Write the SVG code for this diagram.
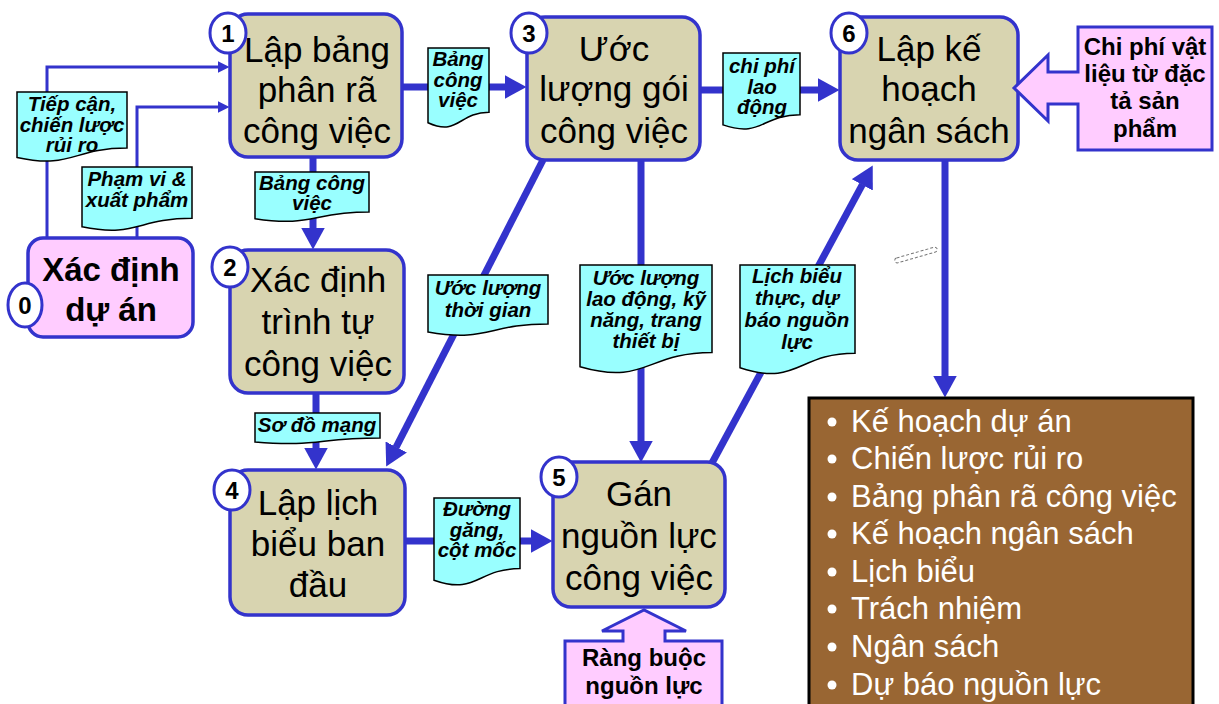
<svg xmlns="http://www.w3.org/2000/svg" width="1219" height="704" viewBox="0 0 1219 704">
  <style>
    .node { fill: #d8d4b0; stroke: #3333cc; stroke-width: 3.5; }
    .start { fill: #ffccff; stroke: #3333cc; stroke-width: 3.5; }
    .num { fill: #ffffff; stroke: #3333cc; stroke-width: 3; }
    .numtxt { font-family: "Liberation Sans", Arial, sans-serif; font-weight: bold; font-size: 24px; fill: #000; text-anchor: middle; }
    .ntxt { font-family: "Liberation Sans", Arial, sans-serif; font-size: 35px; fill: #000; text-anchor: middle; }
    .btxt { font-family: "Liberation Sans", Arial, sans-serif; font-weight: bold; font-size: 33px; fill: #000; text-anchor: middle; }
    .ptxt { font-family: "Liberation Sans", Arial, sans-serif; font-weight: bold; font-size: 24px; fill: #000; text-anchor: middle; }
    .doc { fill: #99ffff; stroke: #000; stroke-width: 1.5; }
    .dtxt { font-family: "Liberation Sans", Arial, sans-serif; font-weight: bold; font-style: italic; font-size: 20.5px; fill: #000; text-anchor: middle; }
    .thick { fill: none; stroke: #3333cc; stroke-width: 7; }
    .thin { fill: none; stroke: #3333cc; stroke-width: 3; }
    .block { fill: #ffccff; stroke: #3333cc; stroke-width: 3; stroke-linejoin: miter; }
    .out { fill: #996633; stroke: #000; stroke-width: 3; }
    .otxt { font-family: "Liberation Sans", Arial, sans-serif; font-size: 31px; fill: #ffffff; }
  </style>
  <defs>
    <marker id="headThick" viewBox="0 0 22 24" refX="0.5" refY="12" markerWidth="22" markerHeight="24" markerUnits="userSpaceOnUse" orient="auto">
      <path d="M0,0 L22,12 L0,24 Z" fill="#3333cc"/>
    </marker>
    <marker id="headThin" viewBox="0 0 12 12" refX="0.5" refY="6" markerWidth="12" markerHeight="12" markerUnits="userSpaceOnUse" orient="auto">
      <path d="M0,0 L12,6 L0,12 Z" fill="#3333cc"/>
    </marker>
  </defs>

  <rect width="1219" height="704" fill="#ffffff"/>

  <!-- connectors -->
  <g id="connectors">
    <path class="thin" d="M47,238 V67 H218" marker-end="url(#headThin)"/>
    <path class="thin" d="M137,238 V107 H218" marker-end="url(#headThin)"/>
    <line class="thick" x1="402" y1="87" x2="505" y2="87" marker-end="url(#headThick)"/>
    <line class="thick" x1="700" y1="90" x2="818" y2="90" marker-end="url(#headThick)"/>
    <line class="thick" x1="313" y1="157" x2="313" y2="228" marker-end="url(#headThick)"/>
    <line class="thick" x1="316" y1="393" x2="316" y2="448" marker-end="url(#headThick)"/>
    <line class="thick" x1="405" y1="541" x2="531" y2="541" marker-end="url(#headThick)"/>
    <line class="thick" x1="641" y1="160" x2="641" y2="441" marker-end="url(#headThick)"/>
    <line class="thick" x1="945" y1="160" x2="945" y2="376" marker-end="url(#headThick)"/>
    <line class="thick" x1="543" y1="160" x2="396" y2="447.4" marker-end="url(#headThick)"/>
    <line class="thick" x1="712" y1="463" x2="862.5" y2="184.4" marker-end="url(#headThick)"/>
  </g>

  <!-- flow labels (document shapes) -->
  <g id="labels">
    <g id="lbl-tiepcan">
      <path class="doc" d="M17,92 H127 V148.1 C72,148.1 72,169.5 17,157.4 Z"/>
      <text class="dtxt" x="72" y="111">Tiếp cận,</text>
      <text class="dtxt" x="72" y="132">chiến lược</text>
      <text class="dtxt" x="72" y="152">rủi ro</text>
    </g>
    <g id="lbl-phamvi">
      <path class="doc" d="M82,167 H192 V218.3 C137,218.3 137,237.8 82,226.8 Z"/>
      <text class="dtxt" x="137" y="186">Phạm vi &amp;</text>
      <text class="dtxt" x="137" y="207">xuất phẩm</text>
    </g>
    <g id="lbl-bang1">
      <path class="doc" d="M428,48 H489 V112.2 C458.5,112.2 458.5,136.6 428,122.7 Z"/>
      <text class="dtxt" x="458" y="66">Bảng</text>
      <text class="dtxt" x="458" y="87">công</text>
      <text class="dtxt" x="458" y="107">việc</text>
    </g>
    <g id="lbl-chiphi">
      <path class="doc" d="M723,53 H800 V114.8 C761.5,114.8 761.5,138.2 723,124.9 Z"/>
      <text class="dtxt" x="762" y="73">chi phí</text>
      <text class="dtxt" x="762" y="94">lao</text>
      <text class="dtxt" x="762" y="114">động</text>
    </g>
    <g id="lbl-bang2">
      <path class="doc" d="M255,172 H369 V212.1 C312,212.1 312,227.4 255,218.7 Z"/>
      <text class="dtxt" x="312" y="190">Bảng công</text>
      <text class="dtxt" x="312" y="210">việc</text>
    </g>
    <g id="lbl-sodo">
      <path class="doc" d="M255,413 H380 V437.9 C317.5,437.9 317.5,447.3 255,442 Z"/>
      <text class="dtxt" x="317" y="432">Sơ đồ mạng</text>
    </g>
    <g id="lbl-thoigian">
      <path class="doc" d="M428,275 H548 V323.9 C488,323.9 488,342.5 428,332 Z"/>
      <text class="dtxt" x="488" y="295">Ước lượng</text>
      <text class="dtxt" x="488" y="317">thời gian</text>
    </g>
    <g id="lbl-laodong">
      <path class="doc" d="M580,265 H712 V352.4 C646,352.4 646,385.7 580,366.8 Z"/>
      <text class="dtxt" x="646" y="285">Ước lượng</text>
      <text class="dtxt" x="646" y="306">lao động, kỹ</text>
      <text class="dtxt" x="646" y="327">năng, trang</text>
      <text class="dtxt" x="646" y="348">thiết bị</text>
    </g>
    <g id="lbl-lichbieu">
      <path class="doc" d="M740,265 H855 V353.2 C797.5,353.2 797.5,386.8 740,367.7 Z"/>
      <text class="dtxt" x="797" y="283">Lịch biểu</text>
      <text class="dtxt" x="797" y="305">thực, dự</text>
      <text class="dtxt" x="797" y="327">báo nguồn</text>
      <text class="dtxt" x="797" y="349">lực</text>
    </g>
    <g id="lbl-duonggang">
      <path class="doc" d="M434,498 H520 V568.6 C477,568.6 477,595.4 434,580.2 Z"/>
      <text class="dtxt" x="477" y="516">Đường</text>
      <text class="dtxt" x="477" y="537">găng,</text>
      <text class="dtxt" x="477" y="557">cột mốc</text>
    </g>
  </g>

  <!-- step 0 -->
  <g id="node0">
    <rect class="start" x="28" y="238" width="165" height="99" rx="15"/>
    <text class="btxt" x="111" y="281">Xác định</text>
    <text class="btxt" x="111" y="321">dự án</text>
    <ellipse class="num" cx="25" cy="305" rx="17" ry="22"/>
    <text class="numtxt" x="25" y="314">0</text>
  </g>

  <!-- step 1 -->
  <g id="node1">
    <rect class="node" x="230" y="14" width="172" height="143" rx="18"/>
    <text class="ntxt" x="317" y="62">Lập bảng</text>
    <text class="ntxt" x="317" y="102">phân rã</text>
    <text class="ntxt" x="317" y="143">công việc</text>
    <ellipse class="num" cx="228" cy="33" rx="18" ry="20"/>
    <text class="numtxt" x="228" y="42">1</text>
  </g>

  <!-- step 2 -->
  <g id="node2">
    <rect class="node" x="230" y="250" width="174" height="143" rx="18"/>
    <text class="ntxt" x="318" y="292">Xác định</text>
    <text class="ntxt" x="318" y="334">trình tự</text>
    <text class="ntxt" x="318" y="376">công việc</text>
    <ellipse class="num" cx="230" cy="267" rx="18" ry="20"/>
    <text class="numtxt" x="230" y="276">2</text>
  </g>

  <!-- step 3 -->
  <g id="node3">
    <rect class="node" x="527" y="17" width="173" height="143" rx="18"/>
    <text class="ntxt" x="614" y="61">Ước</text>
    <text class="ntxt" x="614" y="101">lượng gói</text>
    <text class="ntxt" x="614" y="143">công việc</text>
    <ellipse class="num" cx="529" cy="33" rx="18" ry="20"/>
    <text class="numtxt" x="529" y="42">3</text>
  </g>

  <!-- step 4 -->
  <g id="node4">
    <rect class="node" x="230" y="470" width="175" height="145" rx="18"/>
    <text class="ntxt" x="318" y="515">Lập lịch</text>
    <text class="ntxt" x="318" y="556">biểu ban</text>
    <text class="ntxt" x="318" y="597">đầu</text>
    <ellipse class="num" cx="232" cy="490" rx="18" ry="20"/>
    <text class="numtxt" x="232" y="499">4</text>
  </g>

  <!-- step 5 -->
  <g id="node5">
    <rect class="node" x="553" y="462" width="172" height="145" rx="18"/>
    <text class="ntxt" x="639" y="506">Gán</text>
    <text class="ntxt" x="639" y="548">nguồn lực</text>
    <text class="ntxt" x="639" y="590">công việc</text>
    <ellipse class="num" cx="559" cy="477" rx="18" ry="20"/>
    <text class="numtxt" x="559" y="486">5</text>
  </g>

  <!-- step 6 -->
  <g id="node6">
    <rect class="node" x="840" y="17" width="178" height="143" rx="18"/>
    <text class="ntxt" x="929" y="61">Lập kế</text>
    <text class="ntxt" x="929" y="101">hoạch</text>
    <text class="ntxt" x="929" y="143">ngân sách</text>
    <ellipse class="num" cx="849" cy="33" rx="18" ry="20"/>
    <text class="numtxt" x="849" y="42">6</text>
  </g>

  <!-- material cost input -->
  <g id="input-material">
    <path class="block" d="M1078,27 H1212 V150 H1078 V104 H1048 V121 L1014,88 L1048,55 V72 H1078 Z"/>
    <text class="ptxt" x="1145" y="55">Chi phí vật</text>
    <text class="ptxt" x="1145" y="82">liệu từ đặc</text>
    <text class="ptxt" x="1145" y="109">tả sản</text>
    <text class="ptxt" x="1145" y="137">phẩm</text>
  </g>

  <!-- resource constraint input -->
  <g id="input-constraint">
    <path class="block" d="M565,641 H623 V631 H602 L644,610 L686,631 H665 V641 H722 V712 H565 Z"/>
    <text class="ptxt" x="644" y="666">Ràng buộc</text>
    <text class="ptxt" x="644" y="694">nguồn lực</text>
  </g>

  <!-- outputs -->
  <g id="outputs">
    <rect class="out" x="809" y="398" width="384" height="320"/>
    <g fill="#ffffff">
      <circle cx="832" cy="422" r="4.5"/>
      <circle cx="832" cy="459" r="4.5"/>
      <circle cx="832" cy="497" r="4.5"/>
      <circle cx="832" cy="534" r="4.5"/>
      <circle cx="832" cy="572" r="4.5"/>
      <circle cx="832" cy="609" r="4.5"/>
      <circle cx="832" cy="647" r="4.5"/>
      <circle cx="832" cy="685" r="4.5"/>
    </g>
    <text class="otxt" x="851" y="432">Kế hoạch dự án</text>
    <text class="otxt" x="851" y="469">Chiến lược rủi ro</text>
    <text class="otxt" x="851" y="507">Bảng phân rã công việc</text>
    <text class="otxt" x="851" y="544">Kế hoạch ngân sách</text>
    <text class="otxt" x="851" y="582">Lịch biểu</text>
    <text class="otxt" x="851" y="619">Trách nhiệm</text>
    <text class="otxt" x="851" y="657">Ngân sách</text>
    <text class="otxt" x="851" y="695">Dự báo nguồn lực</text>
  </g>

  <!-- small dashed mark -->
  <rect x="894" y="252.5" width="44" height="5" rx="2.5" fill="#ffffff" stroke="#777777" stroke-width="1" stroke-dasharray="3 2" transform="rotate(-16 916 255)"/>
</svg>
